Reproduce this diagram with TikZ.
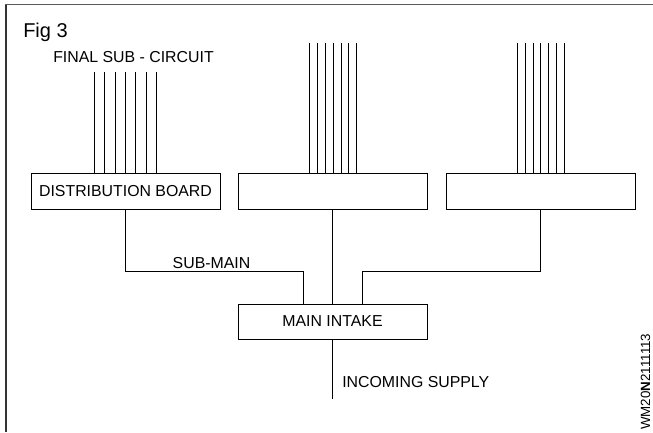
\documentclass[tikz,border=0pt]{standalone}
\usepackage{fontspec}
\setmainfont{Liberation Sans}
\usepackage{tikz}
\usetikzlibrary{calc}

\tikzset{
  bang/.style={draw, line width=0.75pt, minimum width=141.75pt, minimum height=27pt, inner sep=0pt, font=\fontsize{11.9}{14}\selectfont},
  nhan/.style={inner sep=0pt, font=\fontsize{11.9}{14}\selectfont},
  day/.style={line width=0.75pt}
}

\begin{document}
\begin{tikzpicture}[x=0.75pt, y=-0.75pt]
        \useasboundingbox (0,0) rectangle (653,432);
        % Khung
        \draw[line width=1pt, black!65] (5,4.5) -- (653,4.5);
        \draw[line width=1pt, black!80] (6,4.5) -- (6,432);
        % Tiêu đề
        \node[anchor=west, inner sep=0pt, font=\fontsize{15}{18}\selectfont] (fig) at (23,32) {Fig 3};
        \node[nhan] (final) at (133.5,57) {FINAL SUB - CIRCUIT};
        % Các bảng phân phối
        \node[bang] (db1) at (125.5,191) {DISTRIBUTION BOARD};
        \node[bang] (db2) at (332.5,191) {};
        \node[bang] (db3) at (540.5,191) {};
        \node[bang, minimum height=26.25pt] (intake) at (332.5,321.5) {MAIN INTAKE};
        % Mạch nhánh
        \foreach \i in {-3,...,3} {
          \draw[day] (db1.north) ++(\i*10.3,0) -- ++(0,-101);
          \draw[day] (db2.north) ++(\i*7.8+0.8,0) -- ++(0,-130);
          \draw[day] (db3.north) ++(\i*7.8+0.3,0) -- ++(0,-130);
        }
        % Đường trục phụ
        \coordinate (k1) at (303,271);
        \coordinate (k3) at (362.5,271);
        \coordinate (supply) at (332.5,399);
        \draw[day] (db1.south) |- (k1) -- (k1 |- intake.north);
        \draw[day] (db2.south) -- (intake.north);
        \draw[day] (db3.south) |- (k3) -- (k3 |- intake.north);
        \draw[day] (intake.south) -- (supply);
        % Nhãn
        \node[nhan] (submain) at (211.5,263) {SUB-MAIN};
        \node[nhan, anchor=west] (incoming) at (342,382) {INCOMING SUPPLY};
        \node[rotate=90, anchor=west, inner sep=0pt, font=\fontsize{10}{12}\selectfont] (code) at (645.5,430) {WM20\textbf{N}2111113};
    \end{tikzpicture}
\end{document}
